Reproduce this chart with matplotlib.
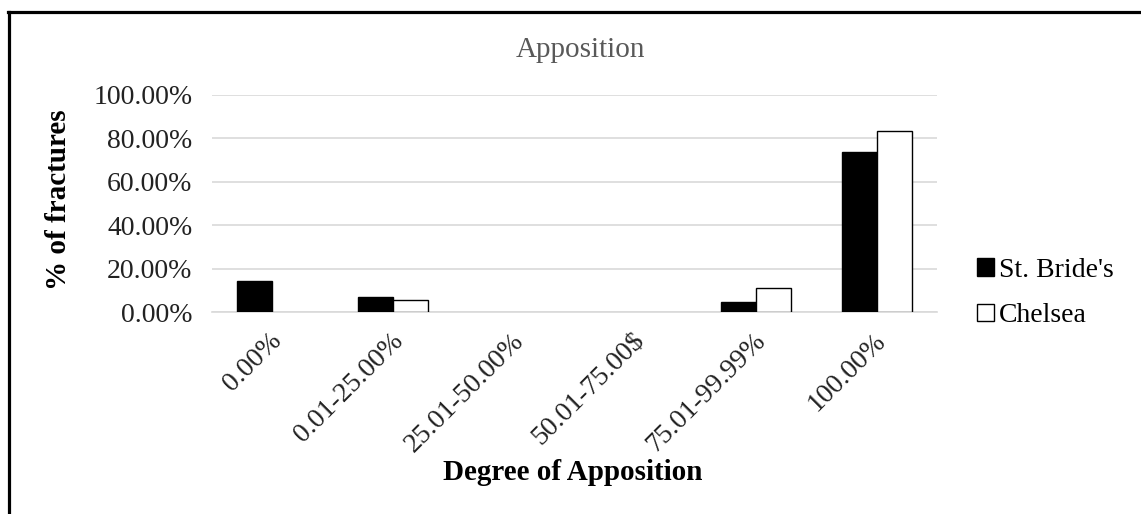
import matplotlib
matplotlib.use("Agg")
import matplotlib.pyplot as plt
import matplotlib.transforms as mtransforms
import numpy as np
from matplotlib.patches import Patch
from matplotlib.lines import Line2D

categories = ["0.00%", "0.01-25.00%", "25.01-50.00%", "50.01-75.00$", "75.01-99.99%", "100.00%"]
st_brides = [14.29, 7.14, 0.0, 0.0, 4.76, 73.81]
chelsea = [0.0, 5.56, 0.0, 0.0, 11.11, 83.33]
y_ticks = [0, 20, 40, 60, 80, 100]
y_ticklabels = ["0.00%", "20.00%", "40.00%", "60.00%", "80.00%", "100.00%"]

plt.rcParams['font.family'] = ['Liberation Serif', 'DejaVu Serif']

W, H = 1141, 514
fig = plt.figure(figsize=(W / 100, H / 100), dpi=100)
ax = fig.add_axes([212 / W, 1 - 312 / H, (937 - 212) / W, (312 - 95) / H])

x = np.arange(len(categories))
bw = 0.29
b1 = ax.bar(x - bw / 2, st_brides, width=bw, color="black", edgecolor="black", linewidth=1, label="St. Bride's", zorder=3)
b2 = ax.bar(x + bw / 2, chelsea, width=bw, color="white", edgecolor="black", linewidth=1, label="Chelsea", zorder=3)
for p in list(b1) + list(b2):
    if p.get_height() == 0:
        p.set_visible(False)

ax.set_xlim(-0.5, len(categories) - 0.5)
ax.set_ylim(0, 100)
ax.set_yticks(y_ticks)
ax.set_yticklabels(y_ticklabels, fontsize=20, color="#222222")
ax.yaxis.grid(True, color="#d9d9d9", linewidth=1.2, zorder=0)
ax.set_axisbelow(True)
for s in ["top", "right", "left"]:
    ax.spines[s].set_visible(False)
ax.spines["bottom"].set_color("#d9d9d9")
ax.spines["bottom"].set_linewidth(1.2)
ax.tick_params(axis="both", length=0)
ax.tick_params(axis="y", pad=14)

ax.set_xticks(x)
ax.set_xticklabels(categories, fontsize=20, rotation=45, ha="right", va="center",
                   rotation_mode="anchor", color="#222222")
ax.tick_params(axis="x", pad=18)
offset = mtransforms.ScaledTranslation(6 / 100, 0, fig.dpi_scale_trans)
for lbl in ax.get_xticklabels():
    lbl.set_transform(lbl.get_transform() + offset)

fig.text(580 / W, 1 - 50 / H, "Apposition", fontsize=21, color="#595959", ha="center", va="center")
fig.text(58 / W, 1 - 200 / H, "% of fractures", fontsize=21, fontweight="bold", rotation=90,
         ha="center", va="center")
fig.text(573 / W, 1 - 473 / H, "Degree of Apposition", fontsize=21, fontweight="bold",
         ha="center", va="center")

handles = [Patch(facecolor="black", edgecolor="black"),
           Patch(facecolor="white", edgecolor="black")]
fig.legend(handles, ["St. Bride's", "Chelsea"], loc="center left",
           bbox_to_anchor=(966 / W, 1 - 293 / H), frameon=False, fontsize=20,
           handlelength=0.6, handleheight=0.6, handletextpad=0.2, labelspacing=0.75,
           borderaxespad=0)

# outer border (top and left edges)
fig.add_artist(Line2D([8 / W, 1.0], [1 - 12 / H, 1 - 12 / H], transform=fig.transFigure,
                      color="black", linewidth=2.3))
fig.add_artist(Line2D([9 / W, 9 / W], [1 - 12 / H, 0], transform=fig.transFigure,
                      color="black", linewidth=2.3))

fig.savefig("out.png", dpi=100, facecolor="white")
